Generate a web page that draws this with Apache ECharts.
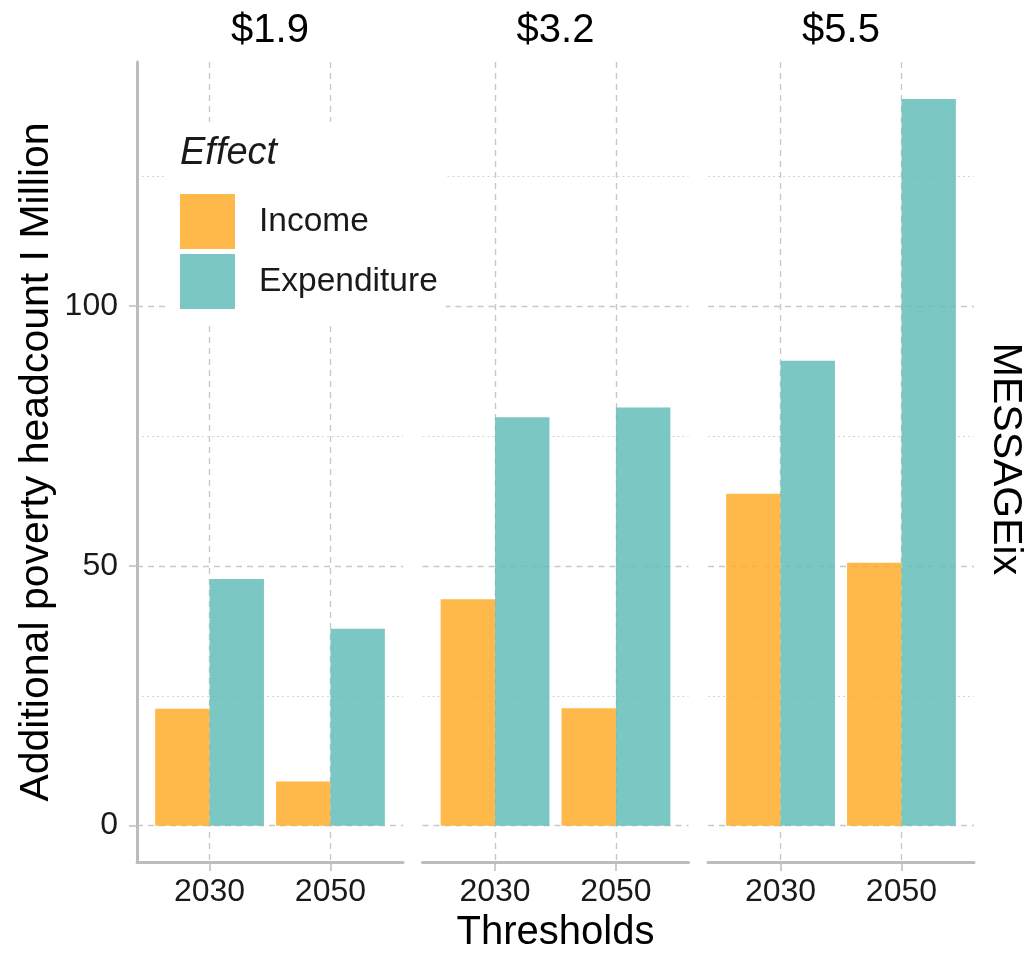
<!DOCTYPE html>
<html>
<head>
<meta charset="utf-8">
<script src="https://cdn.jsdelivr.net/npm/echarts@6/dist/echarts.min.js"></script>
<style>
  html, body { margin: 0; padding: 0; background: #ffffff; }
  #chart { width: 1027px; height: 953px; }
</style>
</head>
<body>
<div id="chart"></div>
<script>
// Poverty thresholds (facets), projection years and effect types
const thresholds = ['$1.9', '$3.2', '$5.5'];
const years = ['2030', '2050'];
const effects = ['Income', 'Expenditure'];

// Additional poverty headcount (million): one row per threshold, one value per year
const income = [[22.5, 8.5], [43.6, 22.6], [63.9, 50.6]];
const expenditure = [[47.5, 37.9], [78.6, 80.5], [89.5, 139.9]];

// Y axis ticks
const majorTicks = [0, 50, 100];
const minorTicks = [25, 75, 125];

const FONT = '"Liberation Sans", Arial, Helvetica, sans-serif';
const GRID_COLOR = '#c8c8c8';
const AXIS_COLOR = '#bdbdbd';
const COLORS = { Income: 'rgba(254,173,42,0.85)', Expenditure: 'rgba(99,189,184,0.85)' };

// Facet layout
const PANEL_LEFT = 137, PANEL_W = 266, PANEL_GAP = 19.5, PANEL_TOP = 62, PANEL_H = 800;
const panelLeft = i => PANEL_LEFT + i * (PANEL_W + PANEL_GAP);

const grids = [], xAxes = [], yAxes = [], series = [], graphics = [];

thresholds.forEach((t, p) => {
  grids.push({
    left: panelLeft(p), top: PANEL_TOP, width: PANEL_W, height: PANEL_H,
    containLabel: false, outerBoundsMode: 'none'
  });

  xAxes.push({
    type: 'value', gridIndex: p, min: 0.4, max: 2.6,
    axisLine: { show: true, onZero: false, lineStyle: { color: AXIS_COLOR, width: 3 } },
    axisTick: { show: true, customValues: years.map((y, i) => i + 1), length: 9, lineStyle: { color: AXIS_COLOR, width: 1.5 } },
    axisLabel: {
      show: true, customValues: years.map((y, i) => i + 1),
      formatter: v => years[Math.round(v) - 1] || '',
      fontSize: 32, color: '#1a1a1a', fontFamily: FONT, margin: 14
    },
    splitLine: { show: true, lineStyle: { color: GRID_COLOR, width: 1.4, type: [6, 5] } },
    name: p === 1 ? 'Thresholds' : '',
    nameLocation: 'middle', nameGap: 50,
    nameTextStyle: { fontSize: 40, color: '#000', fontFamily: FONT }
  });

  // major gridlines / labelled axis
  yAxes.push({
    type: 'value', gridIndex: p, min: -7, max: 147,
    axisLine: { show: p === 0, onZero: false, lineStyle: { color: AXIS_COLOR, width: 3 } },
    axisTick: { show: p === 0, customValues: majorTicks, length: 8, lineStyle: { color: AXIS_COLOR, width: 1.5 } },
    axisLabel: { show: p === 0, customValues: majorTicks, fontSize: 32, color: '#1a1a1a', fontFamily: FONT, margin: 19 },
    splitLine: { show: true, lineStyle: { color: GRID_COLOR, width: 1.4, type: [6, 5] } },
    name: p === 0 ? 'Additional poverty headcount I Million' : '',
    nameLocation: 'middle', nameGap: 80, nameRotate: 90,
    nameTextStyle: { fontSize: 41, color: '#000', fontFamily: FONT }
  });
  // minor gridlines
  yAxes.push({
    type: 'value', gridIndex: p, min: -7, max: 147, position: 'left',
    axisLine: { show: false }, axisLabel: { show: false },
    axisTick: { show: false, customValues: minorTicks },
    splitLine: { show: true, lineStyle: { color: '#d6d6d6', width: 1.2, type: [2, 3] } }
  });

  [['Income', income], ['Expenditure', expenditure]].forEach(([name, vals]) => {
    series.push({
      type: 'bar', name, xAxisIndex: p, yAxisIndex: 2 * p,
      data: years.map((y, i) => [i + 1, vals[p][i]]),
      barWidth: '45%', barGap: '0%',
      itemStyle: { color: COLORS[name] },
      emphasis: { disabled: true }
    });
  });

  graphics.push({
    type: 'text', x: panelLeft(p) + PANEL_W / 2, y: 31,
    style: { text: t, fontSize: 40, fontFamily: FONT, fill: '#000', align: 'center', verticalAlign: 'middle' }
  });
});

// facet strip label on the right
graphics.push({
  type: 'text', x: 1005, y: 459, rotation: -Math.PI / 2,
  style: { text: 'MESSAGEix', fontSize: 41, fontFamily: FONT, fill: '#000', align: 'center', verticalAlign: 'middle' }
});

const chart = echarts.init(document.getElementById('chart'), null, { renderer: 'canvas' });
chart.setOption({
  animation: false,
  backgroundColor: '#ffffff',
  title: {
    text: 'Effect', left: 180, top: 134, padding: 0, z: 20,
    textStyle: { fontSize: 38, fontStyle: 'italic', fontWeight: 'normal', color: '#1a1a1a', fontFamily: FONT }
  },
  legend: {
    data: effects, orient: 'vertical', left: 167, top: 122,
    padding: [72, 8, 15, 13], itemWidth: 55, itemHeight: 55, itemGap: 5,
    icon: 'rect', backgroundColor: '#ffffff', z: 10,
    textStyle: { fontSize: 33.5, color: '#1a1a1a', fontFamily: FONT, padding: [3, 0, 0, 19] }
  },
  grid: grids,
  xAxis: xAxes,
  yAxis: yAxes,
  series: series,
  graphic: graphics
});
</script>
</body>
</html>
